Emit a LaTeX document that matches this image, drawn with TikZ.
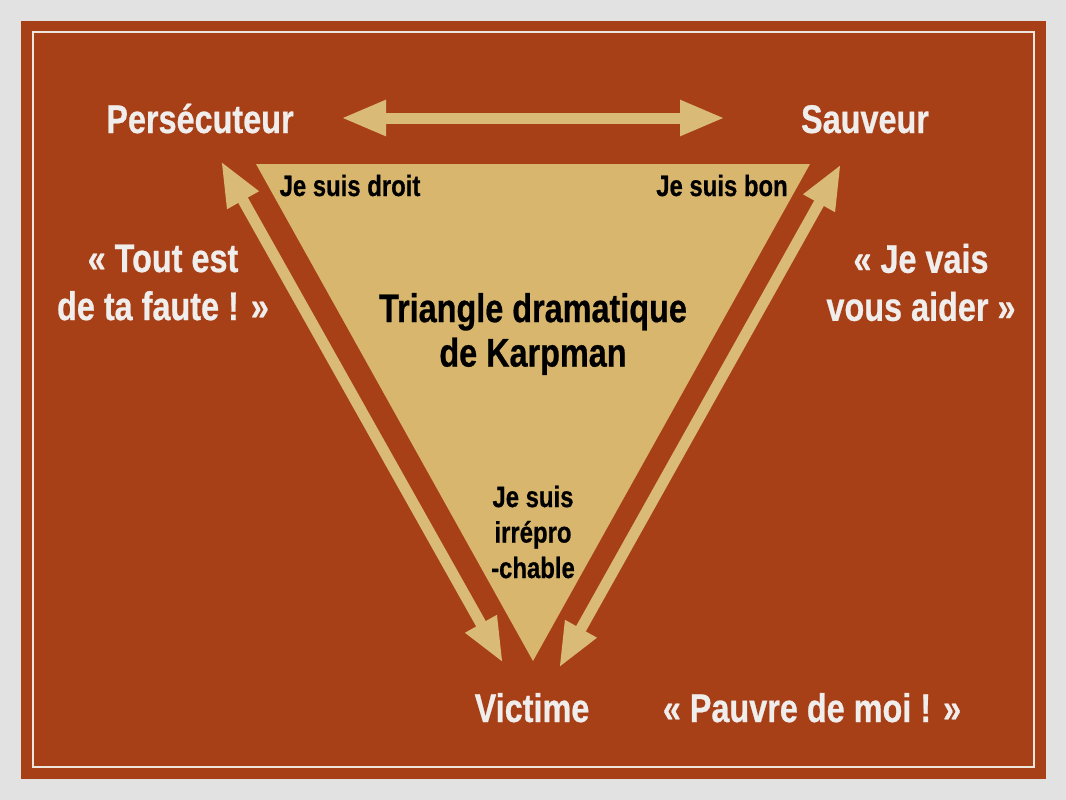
\documentclass[tikz,border=0pt]{standalone}
\usepackage{fontspec}
\setmainfont{Liberation Sans}[FakeStretch=0.81, BoldFeatures={FakeBold=0.6}]
\usetikzlibrary{arrows.meta}
\definecolor{pagegray}{HTML}{E2E2E2}
\definecolor{rust}{HTML}{A84017}
\definecolor{tan}{HTML}{D8B66E}
\definecolor{arrowtan}{HTML}{D9BA76}
\definecolor{chalk}{HTML}{F0EEEC}
\definecolor{edgeline}{HTML}{EDE6DC}
\tikzset{
  bigtext/.style={text=chalk, font=\bfseries\fontsize{40}{48}\selectfont, inner sep=0pt, align=center},
  midtext/.style={text=black, font=\bfseries\fontsize{40}{44.5}\selectfont, inner sep=0pt, align=center},
  smalltext/.style={text=black, font=\bfseries\fontsize{29.5}{35.5}\selectfont, inner sep=0pt, align=center},
  tip/.tip={Triangle[length=45pt,width=33pt]},
  dblarrow/.style={draw=arrowtan, line width=11pt, tip-tip},
}
\begin{document}
\begin{tikzpicture}[x=1pt,y=-1pt]
\useasboundingbox (0,0) rectangle (1066,800);
\fill[pagegray] (0,0) rectangle (1066,800);
\fill[rust] (21,21) rectangle (1046,779);
\draw[edgeline, line width=2.2pt] (33,32) rectangle (1034,767);

% triangle
\fill[tan] (256,164) -- (810,164) -- (533,661) -- cycle;

% arrow end points
\coordinate (hL) at (341,118);
\coordinate (hR) at (725,118);
\coordinate (lT) at (221,161);
\coordinate (lB) at (503,663);
\coordinate (rT) at (841,164);
\coordinate (rB) at (559,668);

\draw[dblarrow] (hL) -- (hR);
\draw[dblarrow] (lT) -- (lB);
\draw[dblarrow] (rT) -- (rB);

% labels
\node[bigtext, anchor=base] (pers) at (200,133) {Persécuteur};
\node[bigtext, anchor=base] (sauv) at (865,133) {Sauveur};
\node[bigtext, anchor=base] (vict) at (532,722) {Victime};
\node[bigtext] (faute) at (163,282.5) {« Tout est\\de ta faute ! »};
\node[bigtext] (aider) at (921,282.5) {« Je vais\\vous aider »};
\node[bigtext, anchor=base] (moi) at (812,722) {« Pauvre de moi ! »};

\node[midtext] (title) at (533,334) {Triangle dramatique\\de Karpman};
\node[smalltext, anchor=base] (droit) at (350,196) {Je suis droit};
\node[smalltext, anchor=base] (bon) at (722,196) {Je suis bon};
\node[smalltext] (irr) at (533,532) {Je suis\\irrépro\\-chable};
\end{tikzpicture}
\end{document}
